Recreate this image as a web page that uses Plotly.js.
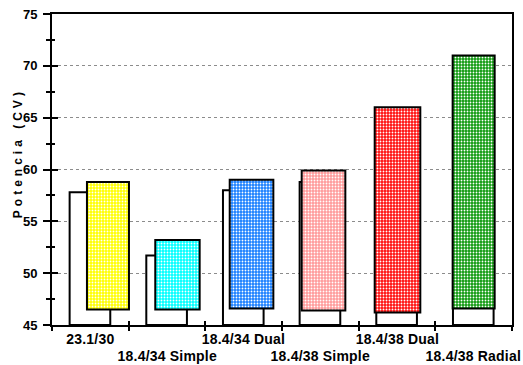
<!DOCTYPE html>
<html>
<head>
<meta charset="utf-8">
<script src="https://cdn.plot.ly/plotly-3.0.1.min.js"></script>
<style>html,body{margin:0;padding:0;background:#fff;}#chart{width:523px;height:365px;}</style>
</head>
<body>
<div id="chart"></div>
<script>
// ---- data ----
const categories = ['23.1/30', '18.4/34 Simple', '18.4/34 Dual', '18.4/38 Simple', '18.4/38 Dual', '18.4/38 Radial'];
const whiteTop = [57.8, 51.7, 58.0, 58.8, 65.0, 70.0];
const fillTop = [58.8, 53.2, 59.0, 59.9, 66.0, 71.0];
const fillBase = [46.5, 46.5, 46.6, 46.4, 46.2, 46.6];
const yTitle = 'Potencia (CV)';
const yRange = [45, 75];

// ---- styles / layout helpers (not data) ----
const fillColors = ['#ffff00', '#00ffff', '#1a80ff', '#ff9a9a', '#ff1010', '#109a10'];
const fillOffset = [-0.044, -0.153, -0.182, -0.243, -0.291, -0.274];
const fillWidth = [0.548, 0.579, 0.569, 0.569, 0.595, 0.548];

const font = 'Arial, "Liberation Sans", sans-serif';

const whiteTrace = {
  type: 'bar',
  x: categories,
  y: whiteTop.map(v => v - yRange[0]),
  base: yRange[0],
  width: 0.53,
  offset: -0.27,
  marker: {color: '#ffffff', line: {color: '#000', width: 2}},
  hoverinfo: 'skip',
  showlegend: false
};

const fillTraces = categories.map((c, i) => ({
  type: 'bar',
  x: [c],
  y: [fillTop[i] - fillBase[i]],
  base: [fillBase[i]],
  width: [fillWidth[i]],
  offset: [fillOffset[i]],
  marker: {
    color: fillColors[i],
    line: {color: '#000', width: 2},
    pattern: {shape: '.', fgcolor: '#ffffff', bgcolor: fillColors[i], size: 3, solidity: 0.3, fillmode: 'replace'}
  },
  hoverinfo: 'skip',
  showlegend: false
}));

const dummy = {type: 'scatter', x: [0], y: [50], xaxis: 'x2', yaxis: 'y2', mode: 'markers', marker: {opacity: 0}, showlegend: false, hoverinfo: 'skip'};

const boundaries = categories.map((c, i) => i - 0.5).concat([categories.length - 0.5]);

const labelAnn = categories.map((c, i) => ({
  text: c, x: c, xref: 'x', yref: 'paper',
  y: i % 2 === 0 ? -0.044 : -0.099,
  yanchor: 'middle', xanchor: 'center', showarrow: false,
  font: {family: font, size: 14, color: '#000', weight: 'bold'}
}));

const titleAnn = {
  text: yTitle, xref: 'paper', yref: 'paper', x: -0.075, y: 0.551,
  textangle: -90, showarrow: false, xanchor: 'center', yanchor: 'middle',
  font: {family: font, size: 12, color: '#000', weight: 'bold'}
};

const layout = {
  width: 523, height: 365,
  margin: {l: 52, r: 11, t: 14, b: 40},
  paper_bgcolor: '#fff', plot_bgcolor: '#fff',
  barmode: 'overlay',
  showlegend: false,
  xaxis: {
    type: 'category', range: [-0.5, categories.length - 0.5],
    showline: true, linewidth: 2, linecolor: '#000', mirror: true,
    ticks: 'outside', tickson: 'boundaries', ticklen: 4, tickwidth: 2, tickcolor: '#000',
    showticklabels: false, showgrid: false, zeroline: false, fixedrange: true
  },
  yaxis: {
    range: yRange, tick0: 45, dtick: 5,
    showline: true, linewidth: 2, linecolor: '#000', mirror: true,
    ticks: 'outside', ticklen: 7, tickwidth: 2, tickcolor: '#000',
    minor: {dtick: 2.5, ticks: 'outside', ticklen: 4, tickwidth: 2, tickcolor: '#000', showgrid: false},
    ticklabelstandoff: 3,
    tickfont: {family: font, size: 13, color: '#000', weight: 'bold'},
    showgrid: true, gridcolor: '#8c8c8c', gridwidth: 1, griddash: 'dot',
    zeroline: false, fixedrange: true
  },
  xaxis2: {
    overlaying: 'x', anchor: 'y2', range: [-0.5, categories.length - 0.5],
    tickmode: 'array', tickvals: boundaries, ticks: 'inside', ticklen: 4, tickwidth: 2, tickcolor: '#000',
    showticklabels: false, showgrid: false, zeroline: false, showline: false, fixedrange: true
  },
  yaxis2: {
    overlaying: 'y', anchor: 'x2', side: 'left', range: yRange, tick0: 45, dtick: 5,
    ticks: 'inside', ticklen: 6, tickwidth: 2, tickcolor: '#000',
    minor: {dtick: 2.5, ticks: 'inside', ticklen: 3, tickwidth: 2, tickcolor: '#000', showgrid: false},
    showticklabels: false, showgrid: false, zeroline: false, showline: false, fixedrange: true
  },
  annotations: labelAnn.concat([titleAnn])
};

Plotly.newPlot('chart', [whiteTrace].concat(fillTraces).concat([dummy]), layout, {staticPlot: true}).then(() => {
  document.querySelectorAll('.annotation-text').forEach(t => {
    if (t.textContent === yTitle) {
      t.style.letterSpacing = '4px';
    } else {
      t.style.letterSpacing = '0.2px';
    }
  });
});
</script>
</body>
</html>
